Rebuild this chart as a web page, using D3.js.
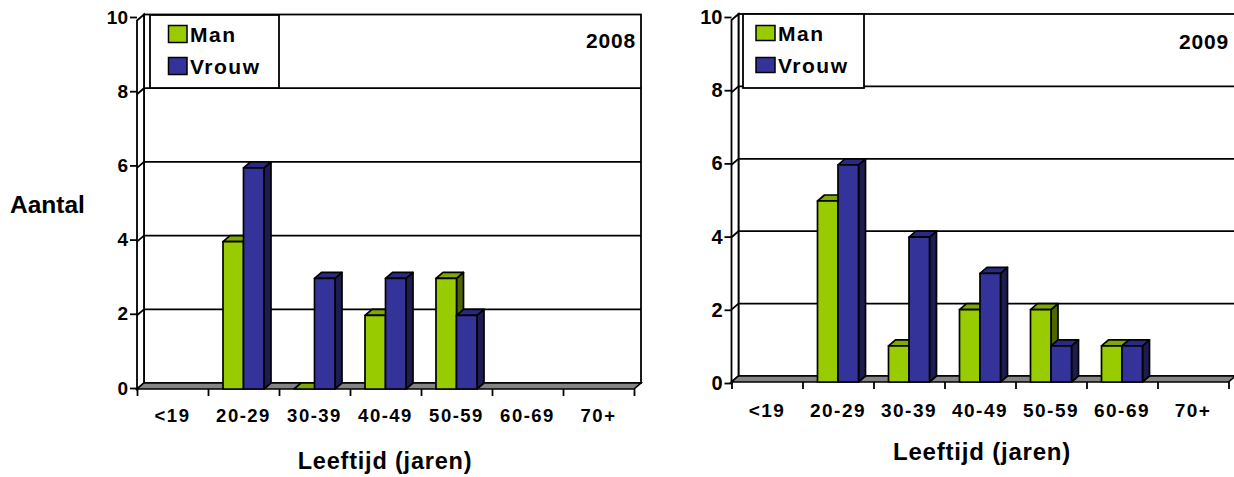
<!DOCTYPE html>
<html><head><meta charset="utf-8">
<script src="https://cdn.jsdelivr.net/npm/d3@7"></script>
<style>
body{margin:0;background:#fff}
svg{display:block;font-family:"Liberation Sans",Arial,sans-serif;font-weight:bold}
</style>
</head><body><svg id="c" width="1234" height="477"></svg>
<script>
// ---- data ----
const categories = ["<19", "20-29", "30-39", "40-49", "50-59", "60-69", "70+"];
const seriesNames = ["Man", "Vrouw"];
const man2008 = [null, 4, 0, 2, 3, null, null];
const vrouw2008 = [null, 6, 3, 3, 2, null, null];
const man2009 = [null, 5, 1, 2, 2, 1, null];
const vrouw2009 = [null, 6, 4, 3, 1, 1, null];
const yTicks = [0, 2, 4, 6, 8, 10];
const years = ["2008", "2009"];
const yLabel = "Aantal";
const xLabel = "Leeftijd (jaren)";

const frontCol = ["#99CC00", "#333399"];
const topCol = ["#7FA800", "#2A2A85"];
const sideCol = ["#4D6600", "#1C1C50"];

const svg = d3.select("#c");
const FF = "Liberation Sans, Arial, sans-serif";

const panels = [
  { year: years[0], series: [man2008, vrouw2008],
    x0: 137, x1: 634, y0: 389, yTop: 20.5, dx: 7, dy: -6,
    ax0: 388, ax10: 17, tickFont: 19, catFont: 18.5, catY: 422, titleX: 385, titleY: 469, titleFont: 23.5,
    legend: { x: 150, y: 15, w: 129, h: 73, sw: 18.5, sh: 17, tx: 190 },
    yearX: 636, yearY: 48, showYLabel: true },
  { year: years[1], series: [man2009, vrouw2009],
    x0: 731.5, x1: 1228.5, y0: 382, yTop: 20, dx: 7, dy: -6,
    ax0: 383, ax10: 17, tickFont: 20, catFont: 19, catY: 417, titleX: 982, titleY: 460, titleFont: 24,
    legend: { x: 743, y: 14, w: 121, h: 74, sw: 19, sh: 15, tx: 778 },
    yearX: 1229, yearY: 49, showYLabel: false }
];

panels.forEach(p => {
  const g = svg.append("g");
  const x = d3.scaleBand().domain(categories).range([p.x0, p.x1]);
  const xs = d3.scaleBand().domain(seriesNames).range([15, 56]);
  const y = d3.scaleLinear().domain([0, 10]).range([p.y0, p.yTop]);
  const yAx = d3.scaleLinear().domain([0, 10]).range([p.ax0, p.ax10]);
  const bx = d3.scaleLinear().domain([0, categories.length]).range([p.x0, p.x1]);
  const dx = p.dx, dy = p.dy;

  // back wall
  g.append("rect")
    .attr("x", p.x0 + dx).attr("y", y(10) + dy)
    .attr("width", p.x1 - p.x0).attr("height", y(0) - y(10))
    .attr("fill", "#fff").attr("stroke", "#000").attr("stroke-width", 1.8);
  // side wall
  g.append("polygon")
    .attr("points", [[p.x0, y(0)], [p.x0, y(10)], [p.x0 + dx, y(10) + dy], [p.x0 + dx, y(0) + dy]].join(" "))
    .attr("fill", "#fff").attr("stroke", "#000").attr("stroke-width", 1.8);
  // gridlines
  yTicks.filter(v => v > 0 && v < 10).forEach(v => {
    g.append("polyline")
      .attr("points", [[p.x0, y(v)], [p.x0 + dx, y(v) + dy], [p.x1 + dx, y(v) + dy]].join(" "))
      .attr("fill", "none").attr("stroke", "#000").attr("stroke-width", 1.8);
  });
  // floor
  g.append("polygon")
    .attr("points", [[p.x0, y(0)], [p.x1, y(0)], [p.x1 + dx, y(0) + dy], [p.x0 + dx, y(0) + dy]].join(" "))
    .attr("fill", "#858585").attr("stroke", "#000").attr("stroke-width", 1.6);

  // bars
  categories.forEach((c, i) => {
    p.series.forEach((arr, s) => {
      const v = arr[i];
      if (v === null) return;
      const bx0 = x(c) + xs(seriesNames[s]);
      const w = xs.bandwidth();
      const yt = y(v), yb = y(0);
      const bg = g.append("g").attr("stroke", "#000").attr("stroke-width", 1.7).attr("stroke-linejoin", "round");
      bg.append("polygon")
        .attr("points", [[bx0 + w, yt], [bx0 + w + dx, yt + dy], [bx0 + w + dx, yb + dy], [bx0 + w, yb]].join(" "))
        .attr("fill", sideCol[s]);
      bg.append("polygon")
        .attr("points", [[bx0, yt], [bx0 + dx, yt + dy], [bx0 + w + dx, yt + dy], [bx0 + w, yt]].join(" "))
        .attr("fill", topCol[s]);
      if (v > 0) {
        bg.append("rect").attr("x", bx0).attr("y", yt).attr("width", w).attr("height", yb - yt)
          .attr("fill", frontCol[s]);
      }
    });
  });

  // y axis
  const ya = g.append("g").attr("transform", `translate(${p.x0},0)`)
    .call(d3.axisLeft(yAx).tickValues(yTicks).tickSize(7).tickPadding(2));
  ya.select(".domain").remove();
  ya.selectAll(".tick line").attr("stroke", "#000").attr("stroke-width", 1.8);
  ya.selectAll(".tick text").attr("fill", "#000").attr("font-size", p.tickFont)
    .attr("font-family", FF).attr("font-weight", "bold");

  // x boundary ticks
  const xb = g.append("g").attr("transform", `translate(0,${y(0)})`)
    .call(d3.axisBottom(bx).tickValues(d3.range(categories.length + 1)).tickSize(7).tickFormat(""));
  xb.select(".domain").remove();
  xb.selectAll(".tick line").attr("stroke", "#000").attr("stroke-width", 1.8);

  // x category labels
  const xl = g.append("g").attr("transform", `translate(0,${p.catY})`)
    .call(d3.axisBottom(x).tickSize(0).tickPadding(0));
  xl.select(".domain").remove();
  xl.selectAll(".tick text").attr("fill", "#000").attr("dy", 0).attr("font-size", p.catFont)
    .attr("font-family", FF).attr("font-weight", "bold")
    .attr("letter-spacing", 1.5);

  // x title
  g.append("text").attr("x", p.titleX).attr("y", p.titleY).attr("text-anchor", "middle")
    .attr("font-size", p.titleFont).attr("letter-spacing", 0.8).text(xLabel);

  // year label
  g.append("text").attr("x", p.yearX).attr("y", p.yearY).attr("text-anchor", "end")
    .attr("font-size", 21).attr("letter-spacing", 0.8).text(p.year);

  // legend
  const L = p.legend;
  const lg = g.append("g");
  lg.append("rect").attr("x", L.x).attr("y", L.y).attr("width", L.w).attr("height", L.h)
    .attr("fill", "#fff").attr("stroke", "#000").attr("stroke-width", 1.8);
  seriesNames.forEach((n, s) => {
    const cy = L.y + 19 + s * 32;
    lg.append("rect").attr("x", L.tx - L.sw - 3).attr("y", cy - L.sh / 2)
      .attr("width", L.sw).attr("height", L.sh).attr("fill", frontCol[s])
      .attr("stroke", "#000").attr("stroke-width", 1.5);
    lg.append("text").attr("x", L.tx).attr("y", cy + 7.5).attr("font-size", 21)
      .attr("letter-spacing", 1.5).text(n);
  });

  if (p.showYLabel) {
    g.append("text").attr("x", 10).attr("y", 213).attr("font-size", 24.5).text(yLabel);
  }
});
</script>
</body></html>
